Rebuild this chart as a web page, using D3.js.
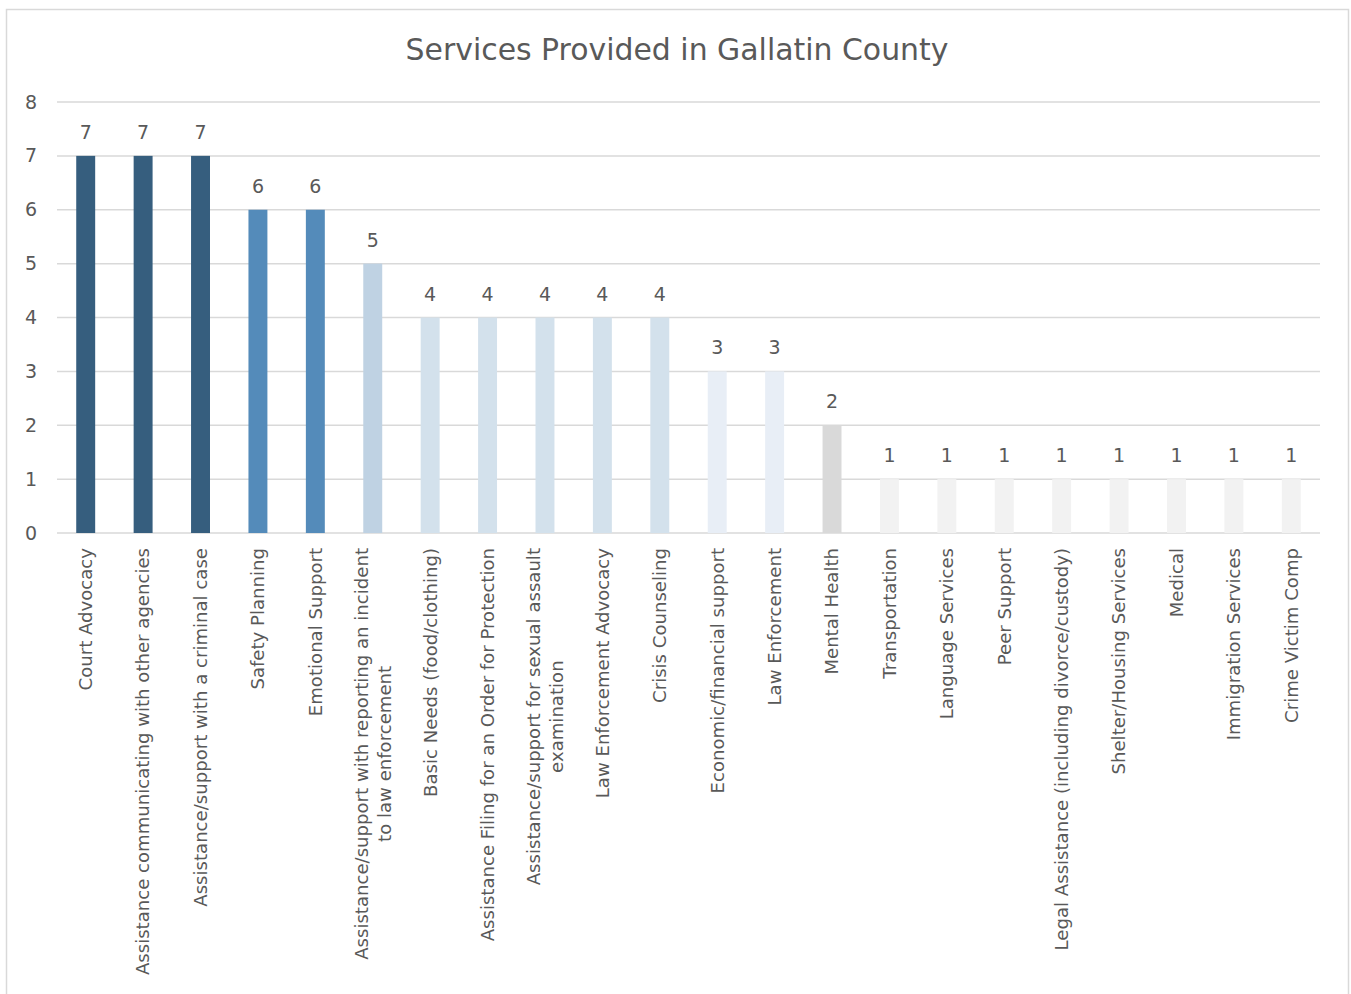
<!DOCTYPE html>
<html>
<head>
<meta charset="utf-8">
<script src="https://cdn.jsdelivr.net/npm/d3@7"></script>
<style>
  body { margin: 0; background: #fff; }
  text { font-family: "DejaVu Sans", sans-serif; fill: #595959; }
</style>
</head>
<body>
<div id="canvas"></div>
<script>
/* DATA */
const categories = [
    "Court Advocacy",
    "Assistance communicating with other agencies",
    "Assistance/support with a criminal case",
    "Safety Planning",
    "Emotional Support",
    "Assistance/support with reporting an incident|to law enforcement",
    "Basic Needs (food/clothing)",
    "Assistance Filing for an Order for Protection",
    "Assistance/support for sexual assault|examination",
    "Law Enforcement Advocacy",
    "Crisis Counseling",
    "Economic/financial support",
    "Law Enforcement",
    "Mental Health",
    "Transportation",
    "Language Services",
    "Peer Support",
    "Legal Assistance (including divorce/custody)",
    "Shelter/Housing Services",
    "Medical",
    "Immigration Services",
    "Crime Victim Comp"
];
const values = [7, 7, 7, 6, 6, 5, 4, 4, 4, 4, 4, 3, 3, 2, 1, 1, 1, 1, 1, 1, 1, 1];
const yTicks = [0, 1, 2, 3, 4, 5, 6, 7, 8];
const title = "Services Provided in Gallatin County";

/* CANVAS */
const width = 1351;
const height = 994;

const svg = d3.select("#canvas")
    .append("svg")
    .attr("width", width)
    .attr("height", height);

/* chart border */
svg.append("rect")
    .attr("x", 6.5)
    .attr("y", 9.5)
    .attr("width", 1342)
    .attr("height", 1000)
    .attr("fill", "none")
    .attr("stroke", "#d9d9d9")
    .attr("stroke-width", 1.5);

/* SCALES */
const x = d3.scaleBand()
    .domain(categories)
    .range([57, 1320])
    .paddingInner(0.67)
    .paddingOuter(0.335);

const y = d3.scaleLinear()
    .domain([0, 8])
    .range([533, 102]);

const color = d3.scaleOrdinal()
    .domain([7, 6, 5, 4, 3, 2, 1])
    .range(["#365e7e", "#548bba", "#bfd2e3", "#d3e1ec", "#e8eef6", "#d9d9d9", "#f2f2f2"]);

/* GRIDLINES */
svg.append("g")
    .selectAll("line")
    .data(yTicks)
    .join("line")
    .attr("x1", 57)
    .attr("x2", 1320)
    .attr("y1", d => y(d))
    .attr("y2", d => y(d))
    .attr("stroke", "#d9d9d9")
    .attr("stroke-width", 1.5);

/* Y AXIS LABELS */
const yAxis = svg.append("g")
    .attr("transform", "translate(37,0)")
    .call(d3.axisLeft(y).tickValues(yTicks).tickSize(0).tickPadding(0));
yAxis.select(".domain").remove();
yAxis.selectAll("text")
    .attr("font-size", 19)
    .attr("font-family", "DejaVu Sans, sans-serif")
    .attr("fill", "#595959");

/* BARS */
svg.append("g")
    .selectAll("rect")
    .data(values)
    .join("rect")
    .attr("x", (d, i) => x(categories[i]))
    .attr("y", d => y(d))
    .attr("width", x.bandwidth())
    .attr("height", d => y(0) - y(d))
    .attr("fill", d => color(d));

/* VALUE LABELS */
svg.append("g")
    .selectAll("text")
    .data(values)
    .join("text")
    .attr("x", (d, i) => x(categories[i]) + x.bandwidth() / 2)
    .attr("y", d => y(d) - 17)
    .attr("text-anchor", "middle")
    .attr("font-size", 19)
    .text(d => d);

/* CATEGORY LABELS */
const labels = svg.append("g")
    .selectAll("g")
    .data(categories)
    .join("g")
    .attr("transform", d => `translate(${x(d) + x.bandwidth() / 2},548) rotate(-90)`);

labels.each(function(d) {
    const g = d3.select(this);
    const lines = d.split("|");
    const texts = lines.map((line, k) => g.append("text")
        .attr("font-size", 18.1)
        .attr("text-anchor", "middle")
        .attr("y", (k - (lines.length - 1) / 2) * 23)
        .attr("dy", "0.35em")
        .text(line));
    const maxW = d3.max(texts, t => t.node().getComputedTextLength());
    texts.forEach(t => t.attr("x", -maxW / 2));
});

/* TITLE */
svg.append("text")
    .attr("x", 677)
    .attr("y", 60)
    .attr("text-anchor", "middle")
    .attr("font-size", 29.9)
    .text(title);
</script>
</body>
</html>
